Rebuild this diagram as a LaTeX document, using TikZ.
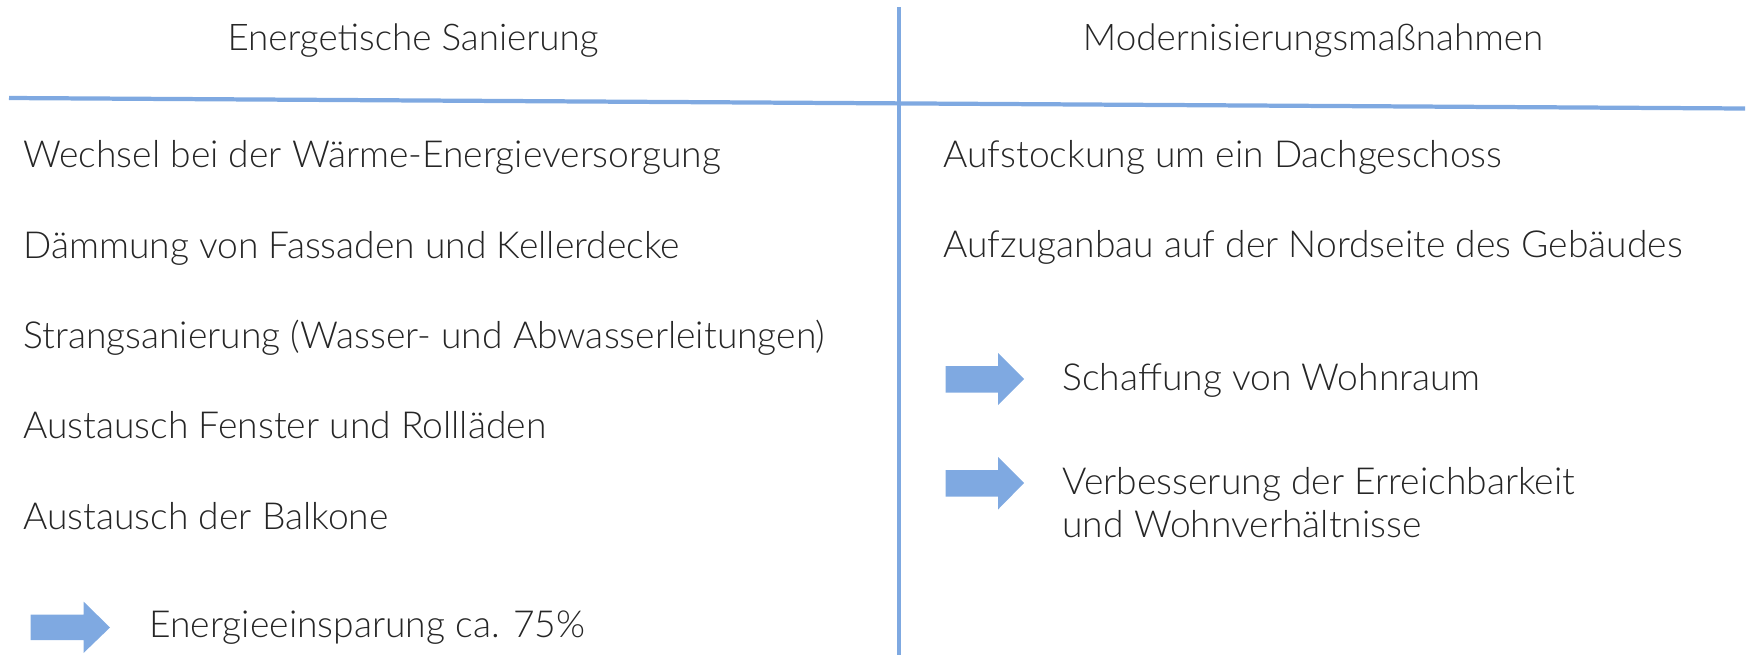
\documentclass[tikz,border=0pt]{standalone}
\usepackage{fontspec}
\setmainfont{Lato Light}
\definecolor{lineblue}{HTML}{7FA9E1}
\begin{document}
\begin{tikzpicture}[x=0.4485pt,y=-0.4485pt,
  txt/.style={anchor=base west,inner sep=0pt,font=\fontsize{16.7}{20}\selectfont,text=black!85},
  ttl/.style={anchor=base,inner sep=0pt,font=\fontsize{16.5}{20}\selectfont,text=black!85},
  rule/.style={draw=lineblue,line width=1.9pt},
  vrule/.style={draw=lineblue,line width=1.8pt},
  bigarrow/.style={fill=lineblue}]
\useasboundingbox (0,0) rectangle (1748,669);
% lines
\coordinate (hl) at (9,98);
\coordinate (hr) at (1745,108.5);
\coordinate (vt) at (899,7);
\coordinate (vb) at (899,655);
\draw[rule] (hl) -- (hr);
\draw[vrule] (vt) -- (vb);
% titles
\node[ttl] (t1) at (413,50.5) {Energetische Sanierung};
\node[ttl] (t2) at (1313,50) {Modernisierungsmaßnahmen};
% left items
\node[txt] (l1) at (23,167) {Wechsel bei der Wärme-Energieversorgung};
\node[txt] (l2) at (23,258) {Dämmung von Fassaden und Kellerdecke};
\node[txt] (l3) at (23,348) {Strangsanierung (Wasser- und Abwasserleitungen)};
\node[txt] (l4) at (23,438) {Austausch Fenster und Rollläden};
\node[txt] (l5) at (23,529) {Austausch der Balkone};
\node[txt] (l6) at (149,637) {Energieeinsparung ca. 75\%};
% right items
\node[txt] (r1) at (943,167) {Aufstockung um ein Dachgeschoss};
\node[txt] (r2) at (943,257) {Aufzuganbau auf der Nordseite des Gebäudes};
\node[txt] (r3) at (1062,390) {Schaffung von Wohnraum};
\node[txt] (r4) at (1062,494) {Verbesserung der Erreichbarkeit};
\node[txt] (r5) at (1062,537) {und Wohnverhältnisse};
% arrows
\fill[bigarrow] (30.5,614.5) -- (83.5,614.5) -- (83.5,601.5) -- (110,627.5) -- (83.5,653) -- (83.5,640) -- (30.5,640) -- cycle;
\fill[bigarrow] (945.5,366) -- (998,366) -- (998,353) -- (1024,379) -- (998,405) -- (998,392.5) -- (945.5,392.5) -- cycle;
\fill[bigarrow] (945.5,470) -- (998,470) -- (998,457) -- (1024,483) -- (998,509.5) -- (998,496.5) -- (945.5,496.5) -- cycle;
\end{tikzpicture}
\end{document}
